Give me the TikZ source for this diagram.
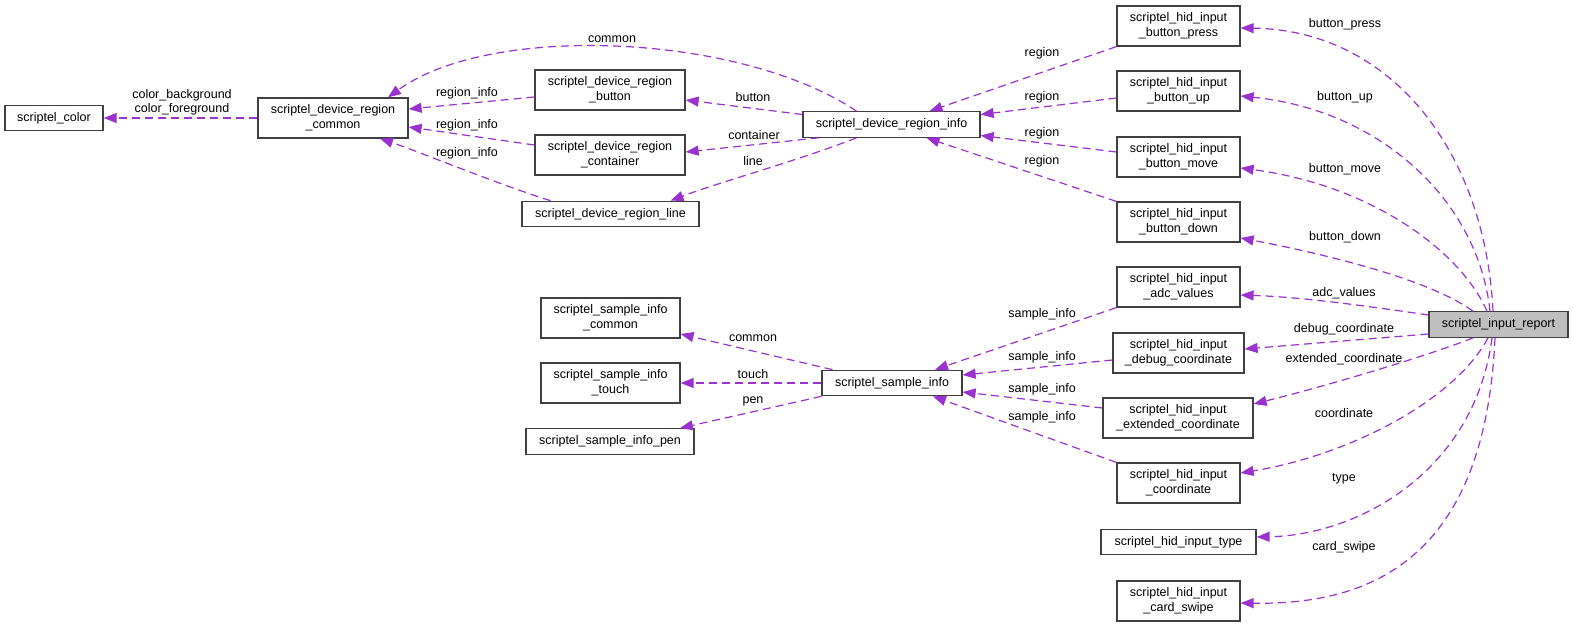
\documentclass[tikz,border=0pt]{standalone}
\usepackage{fontspec}
\setmainfont{Liberation Sans}
\usetikzlibrary{arrows.meta,calc}
\definecolor{edgecol}{RGB}{154,50,205}
\definecolor{boxline}{RGB}{64,64,64}
\definecolor{boxfill}{RGB}{191,191,191}
\begin{document}
\begin{tikzpicture}[x=1pt,y=-1pt,
  cls/.style={draw=boxline,line width=1.2pt,fill=white,inner sep=0pt,align=center,
    font=\fontsize{12.5}{15}\selectfont},
  one/.style={cls,minimum height=25.5pt},
  two/.style={cls,minimum height=40pt},
  root/.style={one,fill=boxfill},
  lbl/.style={inner sep=0pt,align=center,font=\fontsize{12.5}{14}\selectfont},
  rel/.style={draw=edgecol,line width=1.2pt,dash pattern=on 8pt off 5pt,
    -{Triangle[length=13pt,width=10pt,fill=edgecol]}}]
\useasboundingbox (0,0) rectangle (1573,627);

% nodes
\node[one,minimum width=98pt] (color) at (54,118) {scriptel\_color};
\node[two,minimum width=150pt] (common) at (333,118) {scriptel\_device\_region\\\_common};
\node[two,minimum width=150pt] (button) at (610,90) {scriptel\_device\_region\\\_button};
\node[two,minimum width=150pt] (container) at (610,155) {scriptel\_device\_region\\\_container};
\node[one,minimum width=177pt] (line) at (610.5,214) {scriptel\_device\_region\_line};
\node[one,minimum width=177pt] (rinfo) at (891.5,124.5) {scriptel\_device\_region\_info};
\node[two,minimum width=123pt] (press) at (1178.5,26) {scriptel\_hid\_input\\\_button\_press};
\node[two,minimum width=123pt] (up) at (1178.5,91) {scriptel\_hid\_input\\\_button\_up};
\node[two,minimum width=123pt] (move) at (1178.5,157) {scriptel\_hid\_input\\\_button\_move};
\node[two,minimum width=123pt] (down) at (1178.5,222) {scriptel\_hid\_input\\\_button\_down};
\node[two,minimum width=123pt] (adc) at (1178.5,287) {scriptel\_hid\_input\\\_adc\_values};
\node[two,minimum width=131pt] (debug) at (1178.5,353) {scriptel\_hid\_input\\\_debug\_coordinate};
\node[two,minimum width=150pt] (ext) at (1178,418) {scriptel\_hid\_input\\\_extended\_coordinate};
\node[two,minimum width=123pt] (coord) at (1178.5,483) {scriptel\_hid\_input\\\_coordinate};
\node[one,minimum width=155pt] (type) at (1178.5,542) {scriptel\_hid\_input\_type};
\node[two,minimum width=123pt] (swipe) at (1178.5,601) {scriptel\_hid\_input\\\_card\_swipe};
\node[root,minimum width=139pt] (ir) at (1498.5,324.5) {scriptel\_input\_report};
\node[two,minimum width=139pt] (scommon) at (610.5,318) {scriptel\_sample\_info\\\_common};
\node[two,minimum width=139pt] (touch) at (610.5,383) {scriptel\_sample\_info\\\_touch};
\node[one,minimum width=168pt] (pen) at (610,441.5) {scriptel\_sample\_info\_pen};
\node[one,minimum width=140pt] (sinfo) at (892,383) {scriptel\_sample\_info};

% edges
\draw[rel] (common.west) -- (color.east);
\draw[rel] ($(button.west)+(0,7)$) -- ($(common.east)+(0,-9)$);
\draw[rel] ($(container.west)+(0,-10)$) -- ($(common.east)+(0,9)$);
\draw[rel] ($(line.north)+(-60,0)$) .. controls (500,185) and (420,152) .. ($(common.south)+(47,0)$);
\draw[rel] ($(rinfo.north)+(-35,0)$) .. controls (740,33) and (490,23) .. ($(common.north)+(55,0)$);
\draw[rel] ($(rinfo.west)+(0,-10)$) -- ($(button.east)+(0,10)$);
\draw[rel] ($(rinfo.south)+(-73,0)$) -- ($(container.east)+(0,-3)$);
\draw[rel] ($(rinfo.south)+(-35,0)$) .. controls (800,160) and (720,182) .. ($(line.north)+(60,0)$);
\draw[rel] (press.south west) -- ($(rinfo.north)+(38,0)$);
\draw[rel] ($(up.west)+(0,7)$) -- ($(rinfo.east)+(0,-10)$);
\draw[rel] ($(move.west)+(0,-5)$) -- ($(rinfo.east)+(0,11)$);
\draw[rel] (down.north west) -- ($(rinfo.south)+(35,0)$);
\draw[rel] (adc.south west) -- ($(sinfo.north)+(43,0)$);
\draw[rel] ($(debug.west)+(0,7)$) -- ($(sinfo.east)+(0,-8)$);
\draw[rel] ($(ext.west)+(0,-10)$) -- ($(sinfo.east)+(0,9)$);
\draw[rel] (coord.north west) -- ($(sinfo.south)+(41,0)$);
\draw[rel] ($(sinfo.north west)+(11,0)$) -- ($(scommon.east)+(0,16)$);
\draw[rel] (sinfo.west) -- (touch.east);
\draw[rel] (sinfo.south west) -- ($(pen.north)+(70,0)$);
\draw[rel] ($(ir.north)+(-5.5,0)$) .. controls (1485,150) and (1390,30) .. ($(press.east)+(0,2)$);
\draw[rel] ($(ir.north)+(-8.5,0)$) .. controls (1478,200) and (1380,110) .. ($(up.east)+(0,5)$);
\draw[rel] ($(ir.north)+(-11.5,0)$) .. controls (1460,250) and (1370,185) .. ($(move.east)+(0,11)$);
\draw[rel] ($(ir.north)+(-25.5,0)$) .. controls (1430,280) and (1330,255) .. ($(down.east)+(0,16)$);
\draw[rel] ($(ir.west)+(0,-9.5)$) .. controls (1360,305) and (1300,297) .. ($(adc.east)+(0,8)$);
\draw[rel] ($(ir.west)+(0,9.5)$) -- ($(debug.east)+(0,-4)$);
\draw[rel] ($(ir.south)+(-25.5,0)$) .. controls (1430,355) and (1330,385) .. ($(ext.east)+(0,-14)$);
\draw[rel] ($(ir.south)+(-10.5,0)$) .. controls (1455,400) and (1350,455) .. ($(coord.east)+(0,-10)$);
\draw[rel] ($(ir.south)+(-6.5,0)$) .. controls (1475,470) and (1360,535) .. ($(type.east)+(0,-5)$);
\draw[rel] ($(ir.south)+(-3.5,0)$) .. controls (1485,560) and (1370,605) .. ($(swipe.east)+(0,2)$);

% labels
\node[lbl] (l1) at (182,102) {color\_background\\color\_foreground};
\node[lbl] (l2) at (467,93) {region\_info};
\node[lbl] (l3) at (467,125) {region\_info};
\node[lbl] (l4) at (467,153) {region\_info};
\node[lbl] (l5) at (612,39) {common};
\node[lbl] (l6) at (753,97) {button};
\node[lbl] (l7) at (754,135) {container};
\node[lbl] (l8) at (753,161) {line};
\node[lbl] (l9) at (1042,53) {region};
\node[lbl] (l10) at (1042,97) {region};
\node[lbl] (l11) at (1042,133) {region};
\node[lbl] (l12) at (1042,161) {region};
\node[lbl] (l13) at (1042,314) {sample\_info};
\node[lbl] (l14) at (1042,357) {sample\_info};
\node[lbl] (l15) at (1042,389) {sample\_info};
\node[lbl] (l16) at (1042,417) {sample\_info};
\node[lbl] (l17) at (753,338) {common};
\node[lbl] (l18) at (753,374) {touch};
\node[lbl] (l19) at (753,401) {pen};
\node[lbl] (l20) at (1345,24) {button\_press};
\node[lbl] (l21) at (1345,97) {button\_up};
\node[lbl] (l22) at (1345,169) {button\_move};
\node[lbl] (l23) at (1345,237) {button\_down};
\node[lbl] (l24) at (1344,293) {adc\_values};
\node[lbl] (l25) at (1344,329) {debug\_coordinate};
\node[lbl] (l26) at (1344,359) {extended\_coordinate};
\node[lbl] (l27) at (1344,413) {coordinate};
\node[lbl] (l28) at (1344,479) {type};
\node[lbl] (l29) at (1344,547) {card\_swipe};
\end{tikzpicture}
\end{document}
